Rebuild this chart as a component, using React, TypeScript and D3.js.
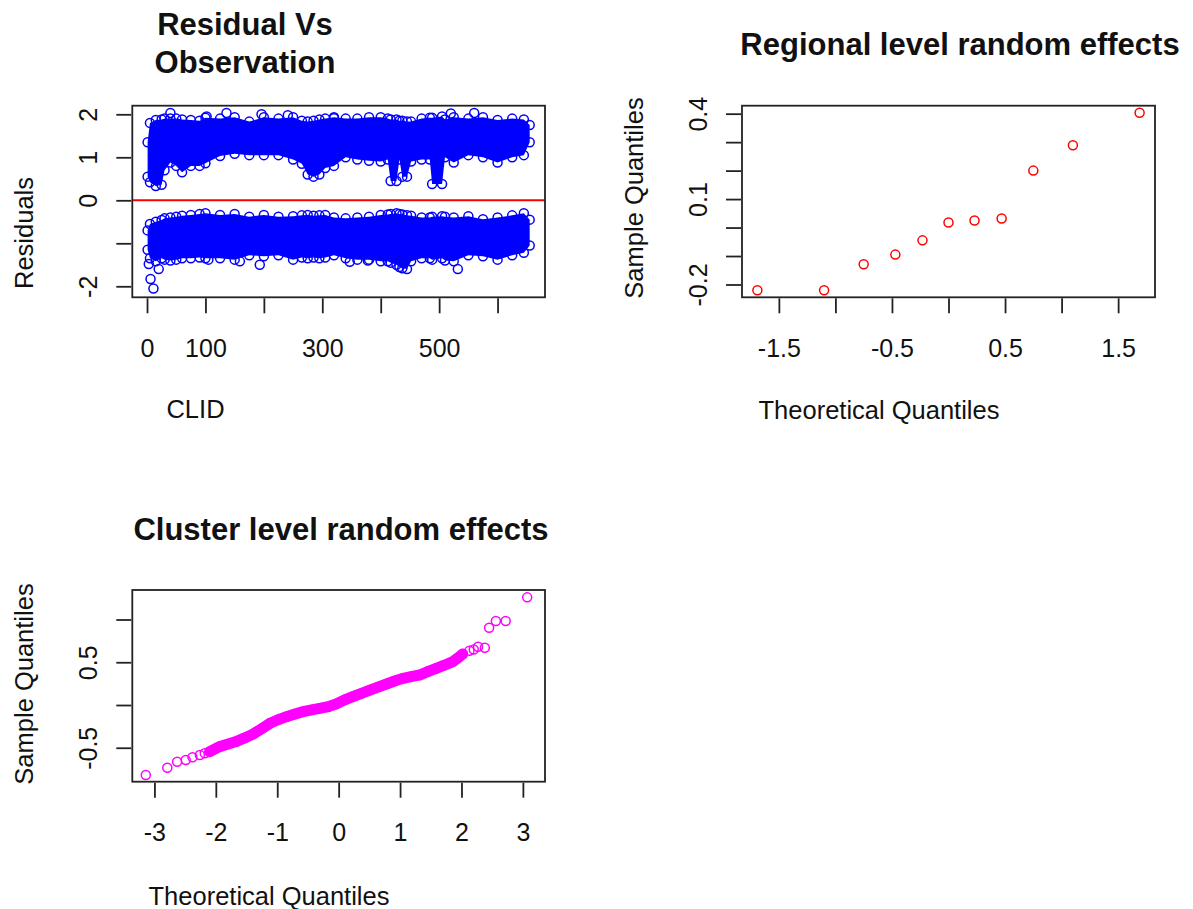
import React, { useRef, useEffect } from "react";
import * as d3 from "d3";

// ---------- Residual Vs Observation (x = CLID) ----------
// envelope of the two dense residual bands, read per CLID
const clid = [1, 5, 15, 25, 30, 40, 50, 60, 75, 90, 100, 125, 150, 175, 200, 225, 250, 265, 275, 285, 295, 305, 320, 340, 360, 380, 400, 412, 417, 427, 432, 437, 445, 452, 470, 484, 488, 505, 510, 525, 550, 575, 600, 625, 645, 655];
const upperTop = [1.35, 1.8, 1.87, 1.88, 1.9, 1.9, 1.9, 1.88, 1.87, 1.85, 1.92, 1.9, 1.93, 1.83, 1.93, 1.9, 1.93, 1.85, 1.83, 1.85, 1.88, 1.9, 1.93, 1.9, 1.9, 1.93, 1.93, 1.9, 1.88, 1.88, 1.85, 1.85, 1.83, 1.83, 1.9, 1.92, 1.92, 1.95, 1.88, 1.93, 1.9, 1.93, 1.87, 1.9, 1.88, 1.75];
const upperBottom = [0.55, 0.42, 0.33, 0.36, 0.7, 0.88, 0.8, 0.65, 0.8, 0.8, 0.86, 1.03, 1.08, 1.05, 1.05, 1.05, 0.95, 0.85, 0.6, 0.55, 0.6, 0.75, 0.8, 1.0, 0.95, 0.92, 0.9, 0.95, 0.45, 0.45, 0.95, 0.55, 0.55, 0.9, 0.95, 0.95, 0.38, 0.38, 1.0, 0.88, 1.05, 1.0, 0.88, 1.0, 1.05, 1.35];
const lowerTop = [-0.7, -0.55, -0.5, -0.46, -0.42, -0.4, -0.38, -0.36, -0.34, -0.32, -0.3, -0.34, -0.32, -0.38, -0.34, -0.38, -0.37, -0.35, -0.34, -0.36, -0.35, -0.34, -0.4, -0.42, -0.4, -0.38, -0.34, -0.33, -0.32, -0.3, -0.32, -0.33, -0.35, -0.36, -0.4, -0.4, -0.38, -0.37, -0.38, -0.4, -0.37, -0.44, -0.4, -0.35, -0.3, -0.45];
const lowerBottom = [-1.15, -1.35, -1.42, -1.35, -1.38, -1.4, -1.38, -1.35, -1.35, -1.33, -1.35, -1.35, -1.38, -1.28, -1.3, -1.28, -1.38, -1.33, -1.35, -1.33, -1.35, -1.33, -1.28, -1.35, -1.38, -1.38, -1.42, -1.42, -1.45, -1.5, -1.55, -1.58, -1.6, -1.42, -1.35, -1.35, -1.38, -1.35, -1.4, -1.42, -1.28, -1.3, -1.38, -1.28, -1.22, -1.05];
// isolated residuals outside the bands
const residOutX = [11, 6, 20, 3, 40, 102, 136, 196, 241, 320, 520, 560, 159, 193, 105, 532, 347, 378];
const residOutY = [-2.05, -1.83, -1.6, -1.48, 2.03, 1.95, 2.03, 2.0, 1.98, 1.91, 2.02, 2.03, -1.42, -1.5, -1.38, -1.6, -1.43, -1.4];
const residXTicks = [0, 100, 200, 300, 400, 500, 600];
const residXLabels = ["0", "100", "", "300", "", "500", ""];
const residYTicks = [-2, -1, 0, 1, 2];
const residYLabels = ["-2", "", "0", "1", "2"];

// ---------- Regional level random effects ----------
const regionTheo = [-1.69, -1.1, -0.75, -0.47, -0.23, 0, 0.23, 0.47, 0.75, 1.1, 1.69];
const regionSample = [-0.22, -0.22, -0.129, -0.095, -0.045, 0.018, 0.025, 0.032, 0.2, 0.289, 0.403];
const regionXTicks = [-1.5, -1, -0.5, 0, 0.5, 1, 1.5];
const regionXLabels = ["-1.5", "", "-0.5", "", "0.5", "", "1.5"];
const regionYTicks = [-0.2, -0.1, 0, 0.1, 0.2, 0.3, 0.4];
const regionYLabels = ["-0.2", "", "", "0.1", "", "", "0.4"];

// ---------- Cluster level random effects ----------
// dense middle of the qq plot
const clusterBandTheo = [-2.1, -1.94, -1.8, -1.67, -1.53, -1.39, -1.25, -1.12, -0.98, -0.85, -0.71, -0.58, -0.44, -0.31, -0.17, -0.04, 0.1, 0.23, 0.37, 0.51, 0.64, 0.78, 0.91, 1.05, 1.18, 1.32, 1.45, 1.59, 1.72, 1.86, 1.94, 2.02];
const clusterBandSample = [-0.546, -0.487, -0.455, -0.428, -0.385, -0.339, -0.275, -0.214, -0.17, -0.136, -0.105, -0.078, -0.058, -0.039, -0.02, 0.012, 0.06, 0.097, 0.135, 0.175, 0.21, 0.246, 0.28, 0.312, 0.332, 0.351, 0.39, 0.429, 0.465, 0.507, 0.55, 0.597];
// isolated points in the tails
const clusterTailTheo = [-3.14, -2.79, -2.63, -2.49, -2.38, -2.26, -2.18, 2.13, 2.2, 2.27, 2.38, 2.45, 2.56, 2.72, 3.07];
const clusterTailSample = [-0.819, -0.733, -0.663, -0.643, -0.612, -0.585, -0.565, 0.635, 0.65, 0.682, 0.67, 0.904, 0.982, 0.982, 1.259];
const clusterXTicks = [-3, -2, -1, 0, 1, 2, 3];
const clusterXLabels = ["-3", "-2", "-1", "0", "1", "2", "3"];
const clusterYTicks = [-0.5, 0, 0.5, 1];
const clusterYLabels = ["-0.5", "", "0.5", ""];

const FONT = "'Liberation Sans', Arial, Helvetica, sans-serif";
const R = 4.5;

const App = () => {
  const svgRef = useRef<SVGSVGElement>(null);

  useEffect(() => {
    const svg = d3.select(svgRef.current).attr("width", 1193).attr("height", 909).style("background", "#fff");
    svg.selectAll("*").remove();

    // frame + axes for one panel
    const frame = (x, y, xTicks, xLabels, yTicks, yLabels) => {
      const [x0, x1] = x.range();
      const [y0, y1] = y.range(); // y0 = bottom
      const gx = svg.append("g").attr("transform", `translate(0, ${y0 + 1})`)
        .call(d3.axisBottom(x).tickValues(xTicks).tickSize(15).tickPadding(26)
          .tickFormat((d, i) => xLabels[i]));
      const gy = svg.append("g").attr("transform", `translate(${x0 - 1}, 0)`)
        .call(d3.axisLeft(y).tickValues(yTicks).tickSize(15)
          .tickFormat((d, i) => yLabels[i]));
      [gx, gy].forEach((g) => {
        g.select(".domain").remove();
        g.selectAll(".tick line").attr("stroke", "#222").attr("stroke-width", 1.8);
        g.selectAll(".tick text").attr("font-family", FONT).attr("font-size", 25).attr("fill", "#111");
      });
      gy.selectAll(".tick text")
        .attr("transform", "rotate(-90)")
        .attr("x", 0).attr("y", -34).attr("dy", 0)
        .attr("text-anchor", "middle");
      svg.append("rect")
        .attr("x", x0).attr("y", y1).attr("width", x1 - x0).attr("height", y0 - y1)
        .attr("fill", "none").attr("stroke", "#222").attr("stroke-width", 1.8);
    };

    const text = (s, x, y, size, bold = false, rotate = false) => {
      svg.append("text")
        .attr("transform", rotate ? `translate(${x},${y}) rotate(-90)` : `translate(${x},${y})`)
        .attr("text-anchor", "middle")
        .attr("font-family", FONT).attr("font-size", size)
        .attr("font-weight", bold ? "bold" : "normal")
        .attr("fill", "#111")
        .text(s);
    };

    const circles = (xs, ys, x, y, color) => {
      const g = svg.append("g");
      g.selectAll("circle").data(xs).enter().append("circle")
        .attr("cx", (d) => x(d))
        .attr("cy", (d, i) => y(ys[i]))
        .attr("r", R)
        .attr("fill", "none").attr("stroke", color).attr("stroke-width", 1.5);
    };

    // ---- panel 1 ----
    const x1 = d3.scaleLinear().domain([-25.2, 681.2]).range([132.3, 545]);
    const y1 = d3.scaleLinear().domain([-2.256, 2.2]).range([297.3, 105.7]);
    const blue = "#0000ff";
    const bandArea = (top, bottom) => d3.area()
      .x((d) => x1(d))
      .y0((d, i) => y1(bottom[i]))
      .y1((d, i) => y1(top[i]));
    svg.append("path").attr("d", bandArea(upperTop, upperBottom)(clid)).attr("fill", blue);
    svg.append("path").attr("d", bandArea(lowerTop, lowerBottom)(clid)).attr("fill", blue);
    circles(clid, upperTop, x1, y1, blue);
    circles(clid, upperBottom, x1, y1, blue);
    circles(clid, lowerTop, x1, y1, blue);
    circles(clid, lowerBottom, x1, y1, blue);
    circles(residOutX, residOutY, x1, y1, blue);
    svg.append("line")
      .attr("x1", x1.range()[0]).attr("x2", x1.range()[1])
      .attr("y1", y1(0)).attr("y2", y1(0))
      .attr("stroke", "#ff0000").attr("stroke-width", 2);
    frame(x1, y1, residXTicks, residXLabels, residYTicks, residYLabels);
    text("Residual Vs", 245, 35, 31, true);
    text("Observation", 245, 72.7, 31, true);
    text("CLID", 195.5, 418, 25.5);
    text("Residuals", 33, 233, 25.5, false, true);

    // ---- panel 2 ----
    const x2 = d3.scaleLinear().domain([-1.826, 1.826]).range([742, 1155]);
    const y2 = d3.scaleLinear().domain([-0.245, 0.428]).range([297.3, 105.7]);
    circles(regionTheo, regionSample, x2, y2, "#ff0000");
    frame(x2, y2, regionXTicks, regionXLabels, regionYTicks, regionYLabels);
    text("Regional level random effects", 960, 55, 31, true);
    text("Theoretical Quantiles", 879, 419, 25.5);
    text("Sample Quantiles", 643, 198, 25.5, false, true);

    // ---- panel 3 ----
    const x3 = d3.scaleLinear().domain([-3.36, 3.36]).range([132.3, 545]);
    const y3 = d3.scaleLinear().domain([-0.897, 1.345]).range([781.7, 590]);
    const magenta = "#ff00ff";
    const bandLine = d3.line().x((d) => x3(d)).y((d, i) => y3(clusterBandSample[i]));
    svg.append("path").attr("d", bandLine(clusterBandTheo))
      .attr("fill", "none").attr("stroke", magenta).attr("stroke-width", 11)
      .attr("stroke-linecap", "round");
    circles(clusterBandTheo, clusterBandSample, x3, y3, magenta);
    circles(clusterTailTheo, clusterTailSample, x3, y3, magenta);
    frame(x3, y3, clusterXTicks, clusterXLabels, clusterYTicks, clusterYLabels);
    text("Cluster level random effects", 341, 540, 31, true);
    text("Theoretical Quantiles", 269, 905, 25.5);
    text("Sample Quantiles", 33, 684, 25.5, false, true);
  }, []);

  return (
    <div style={{ position: "absolute", left: 0, top: 0 }}>
      <svg ref={svgRef} style={{ display: "block" }}></svg>
    </div>
  );
};

export default App;
